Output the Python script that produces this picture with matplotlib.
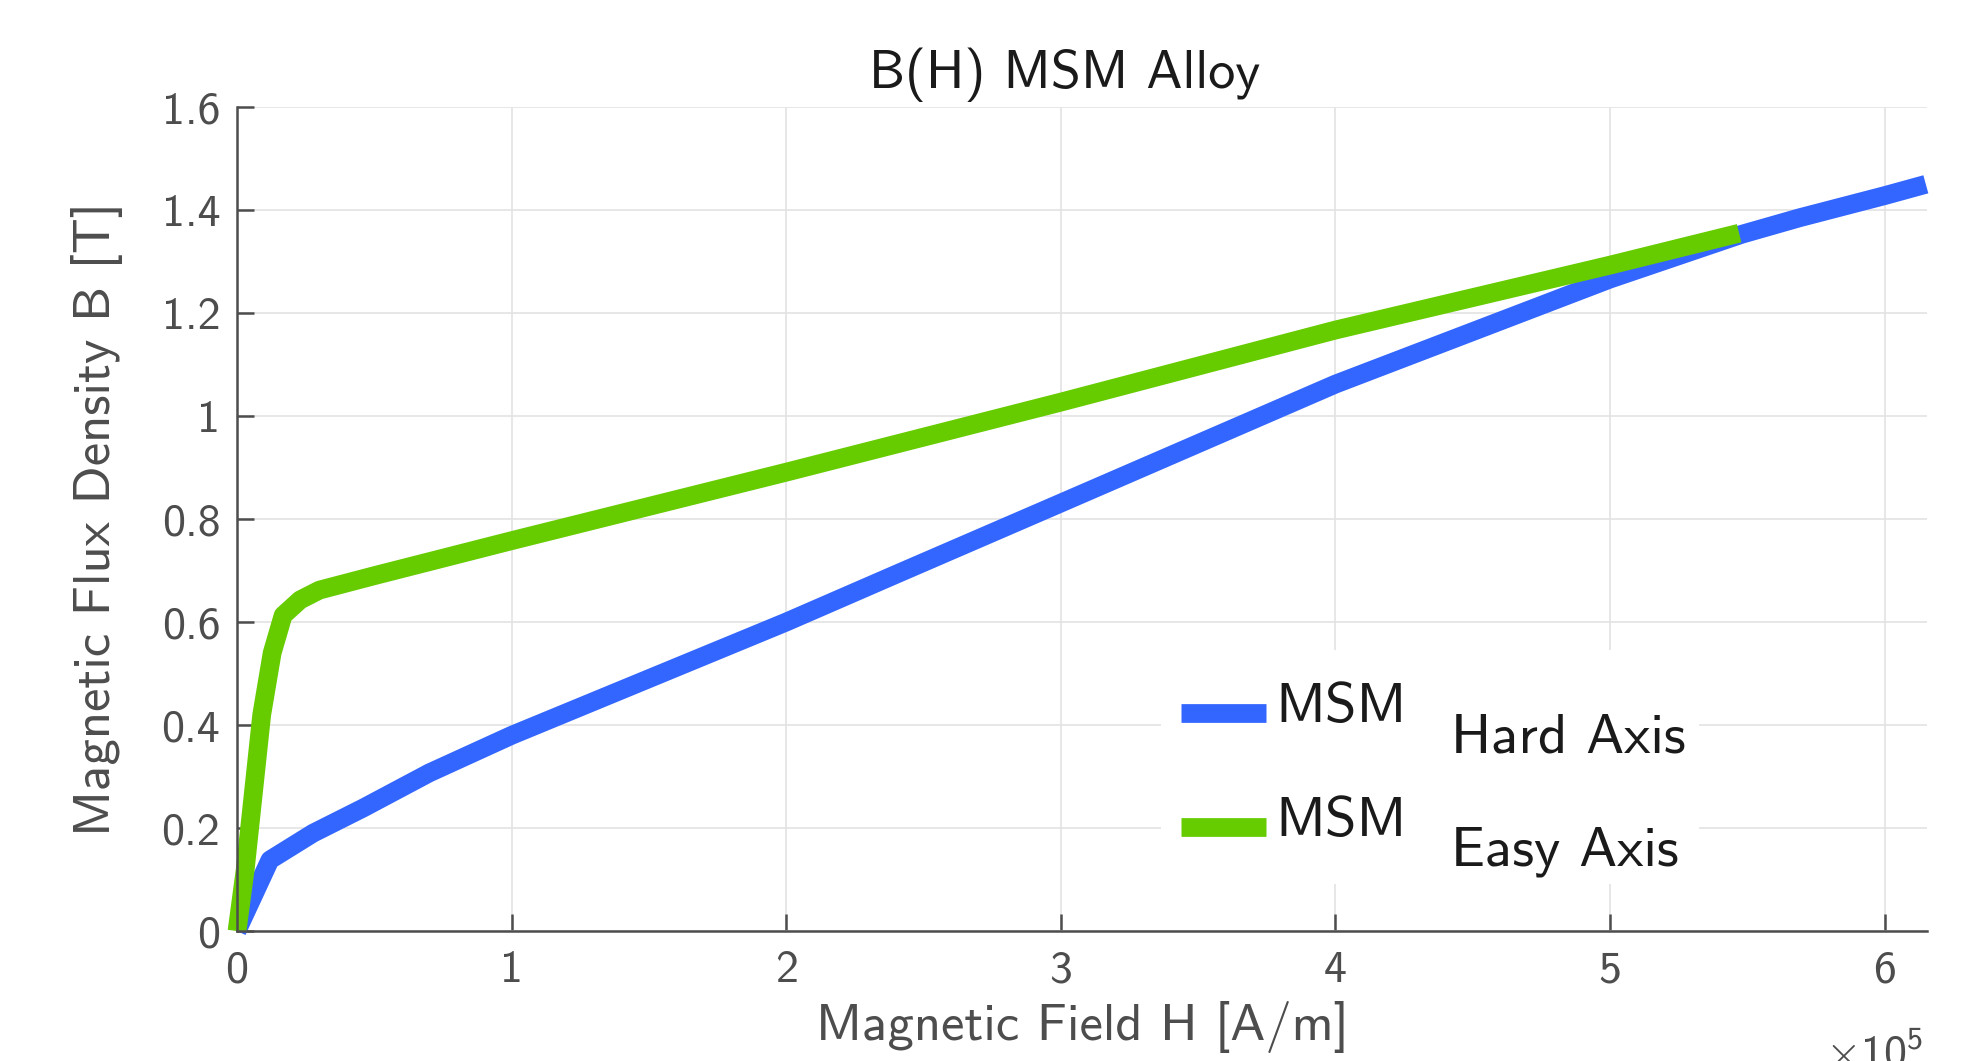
import matplotlib
matplotlib.use("Agg")
import matplotlib.pyplot as plt
from matplotlib.patches import Rectangle
from matplotlib.ticker import FuncFormatter

# B(H) curves, H in A/m, B in T
h_hard = [0, 12000, 27700, 46000, 70000, 100000, 200000, 241000, 300000,
          400000, 500000, 548000, 569000, 600000, 615000]
b_hard = [0, 0.138, 0.190, 0.239, 0.307, 0.380, 0.600, 0.695, 0.831,
          1.062, 1.266, 1.353, 1.385, 1.428, 1.450]

h_easy = [0, 3000, 9000, 12800, 16800, 23000, 30000, 50000, 100000,
          200000, 300000, 400000, 500000, 547000]
b_easy = [0, 0.120, 0.420, 0.540, 0.613, 0.643, 0.662, 0.690, 0.758,
          0.891, 1.027, 1.167, 1.293, 1.355]

x_ticks = [0, 100000, 200000, 300000, 400000, 500000, 600000]
y_ticks = [0, 0.2, 0.4, 0.6, 0.8, 1.0, 1.2, 1.4, 1.6]

names = ['MSM', 'MSM']
subscripts = ['Hard Axis', 'Easy Axis']
colors = ['#3366ff', '#66cc00']

plt.rcParams['font.family'] = ['cmss10', 'DejaVu Sans']
plt.rcParams['mathtext.fontset'] = 'custom'
plt.rcParams['mathtext.rm'] = 'cmss10'
plt.rcParams['mathtext.sf'] = 'cmss10'
plt.rcParams['axes.unicode_minus'] = False

W, H = 1980, 1061
fig = plt.figure(figsize=(W / 100, H / 100), dpi=100)
ax = fig.add_axes([0.1197, 0.1225, 0.8535, 0.7766])

ax.plot(h_hard, b_hard, color=colors[0], lw=13.5, solid_capstyle='butt',
        clip_on=False, label=names[0])
ax.plot(h_easy, b_easy, color=colors[1], lw=13.5, solid_capstyle='butt',
        clip_on=False, label=names[1])

ax.set_xlim(0, 615400)
ax.set_ylim(0, 1.6)
ax.set_xticks(x_ticks)
ax.set_yticks(y_ticks)
ax.xaxis.set_major_formatter(FuncFormatter(lambda v, p: f'{v / 1e5:g}'))
ax.yaxis.set_major_formatter(FuncFormatter(lambda v, p: f'{v:g}'))

ax.grid(True, color='#e3e3e3', lw=1.2)
ax.set_axisbelow(True)
for s in ['top', 'right']:
    ax.spines[s].set_visible(False)
for s in ['left', 'bottom']:
    ax.spines[s].set_color('#4d4d4d')
    ax.spines[s].set_linewidth(1.8)
ax.tick_params(direction='in', length=12, width=1.8, color='#4d4d4d',
               labelcolor='#4d4d4d', labelsize=33)
ax.tick_params(axis='x', pad=14)
ax.tick_params(axis='y', pad=12)

ax.set_xlabel('Magnetic Field H [A/m]', fontsize=38, color='#4d4d4d', labelpad=7)
ax.set_ylabel('Magnetic Flux Density B [T]', fontsize=38, color='#4d4d4d', labelpad=28)
ax.set_title('B(H) MSM Alloy', fontsize=39, color='#1a1a1a', x=0.49, pad=14)

fig.text(0.9465, -0.006, r'$\times 10^{5}$', fontsize=33, color='#4d4d4d',
         ha='center', va='baseline')

# white legend background (covers the grid like the original legend box)
ax.add_patch(Rectangle((0.547, 0.057), 0.318, 0.284, transform=ax.transAxes,
                       facecolor='white', edgecolor='none', zorder=1.5))

leg = ax.legend(loc='upper left', bbox_to_anchor=(0.530, 0.347), fontsize=41,
                frameon=False, handlelength=1.5, handletextpad=0.15,
                labelspacing=1.1, borderpad=0.35)
for t in leg.get_texts():
    t.set_color('#1a1a1a')
    t.set_y(11)  # MSM sits a little above the line sample

# subscripts, placed after the legend text
fig.canvas.draw()
for t, sub in zip(leg.get_texts(), subscripts):
    bb = t.get_window_extent()
    fig.text((bb.x0 + 176) / W, (bb.y0 + 20) / H, sub, fontsize=41,
             color='#1a1a1a', ha='left', va='top')

fig.savefig('out.png', dpi=100)
